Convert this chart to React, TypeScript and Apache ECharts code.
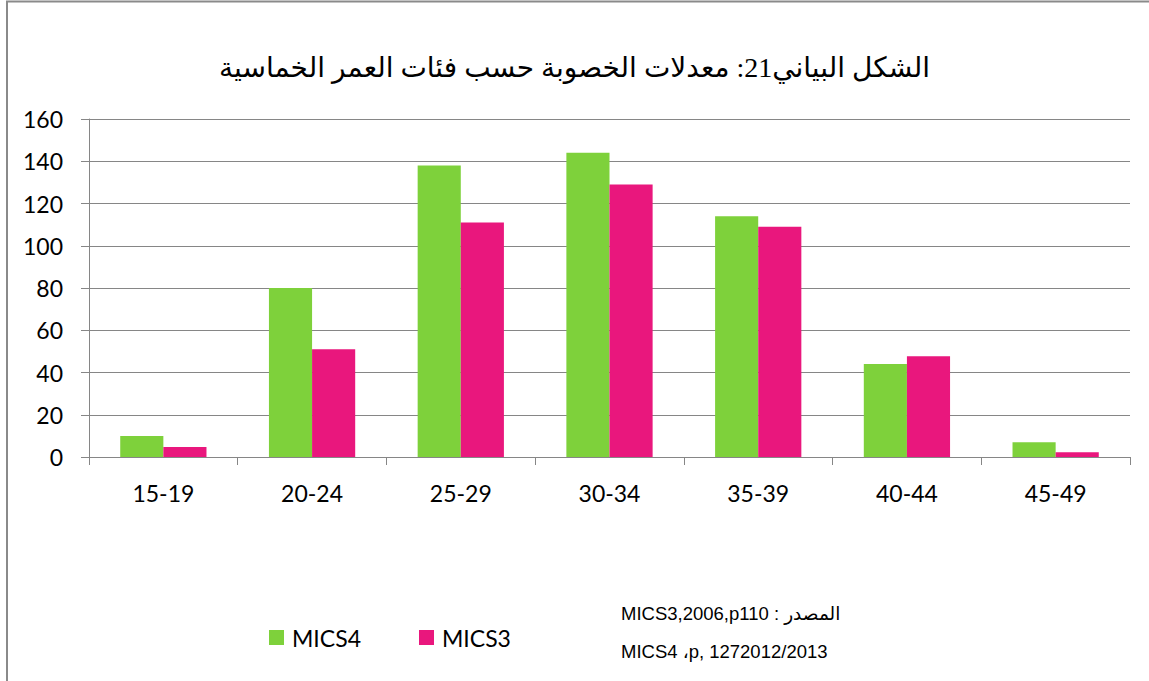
import React, { useEffect, useRef } from "react";
import * as echarts from "echarts";

const categories = ["15-19", "20-24", "25-29", "30-34", "35-39", "40-44", "45-49"];
const mics4 = [10, 80, 138, 144, 114, 44, 7];
const mics3 = [4.7, 51, 111, 129, 109, 47.7, 2.2];
const seriesNames = ["MICS4", "MICS3"];
const titleText = "الشكل البياني21: معدلات الخصوبة حسب فئات العمر الخماسية";
const sourceLine1 = "MICS3,2006,p110 : المصدر";
const sourceLine2 = "MICS4 ،p, 1272012/2013";

const GREEN = "#7ED13B";
const PINK = "#E9177D";
const GRID = "#868686";
const LATIN = "Lato, 'Open Sans', sans-serif";
const SRC_FONT = "'Liberation Sans', 'DejaVu Sans', sans-serif";

export default function App() {
  const ref = useRef<HTMLDivElement>(null);
  useEffect(() => {
    if (!ref.current) return;
    const chart = echarts.init(ref.current, undefined, { renderer: "svg" });
    chart.setOption({
      animation: false,
      backgroundColor: "#ffffff",
      title: {
        text: titleText,
        left: "center",
        top: 48,
        textStyle: {
          fontFamily: "'Liberation Serif', 'DejaVu Sans', serif",
          fontSize: 28,
          fontWeight: "normal",
          color: "#000",
        },
      },
      grid: { left: 89, right: 19, top: 119, bottom: 224, containLabel: false },
      legend: {
        left: 269,
        top: 626,
        padding: 0,
        itemWidth: 15,
        itemHeight: 15,
        itemGap: 58,
        icon: "rect",
        data: seriesNames,
        textStyle: { fontFamily: LATIN, fontSize: 23, color: "#000", padding: [0, 0, 0, 3] },
      },
      xAxis: {
        type: "category",
        data: categories,
        axisLine: { lineStyle: { color: GRID, width: 1 } },
        axisTick: { show: true, length: 8, interval: 0, lineStyle: { color: GRID } },
        axisLabel: { fontFamily: LATIN, fontSize: 23, color: "#000", margin: 24, interval: 0 },
      },
      yAxis: {
        type: "value",
        min: 0,
        max: 160,
        interval: 20,
        axisLine: { show: true, lineStyle: { color: GRID, width: 1 } },
        axisTick: { show: true, length: 8, lineStyle: { color: GRID } },
        splitLine: { show: true, lineStyle: { color: GRID, width: 1 } },
        axisLabel: { fontFamily: LATIN, fontSize: 23, color: "#000", margin: 26 },
      },
      series: [
        {
          name: seriesNames[0],
          type: "bar",
          data: mics4,
          itemStyle: { color: GREEN },
          barGap: "0%",
          barCategoryGap: "42%",
        },
        {
          name: seriesNames[1],
          type: "bar",
          data: mics3,
          itemStyle: { color: PINK },
          barGap: "0%",
          barCategoryGap: "42%",
        },
      ],
      graphic: [
        {
          type: "rect",
          shape: { x: 7, y: 1.5, width: 1300, height: 900 },
          style: { fill: "none", stroke: "#8a8a8a", lineWidth: 2 },
          silent: true,
        },
        {
          type: "text",
          x: 621,
          y: 613,
          style: {
            text: sourceLine1,
            fontFamily: SRC_FONT,
            fontSize: 18.5,
            fill: "#000",
            verticalAlign: "middle",
          },
        },
        {
          type: "text",
          x: 621,
          y: 651,
          style: {
            text: sourceLine2,
            fontFamily: SRC_FONT,
            fontSize: 18.5,
            fill: "#000",
            verticalAlign: "middle",
          },
        },
      ],
    });
    return () => chart.dispose();
  }, []);
  return (
    <div
      ref={ref}
      style={{ position: "fixed", left: 0, top: 0, width: 1149, height: 681, background: "#fff" }}
    />
  );
}
